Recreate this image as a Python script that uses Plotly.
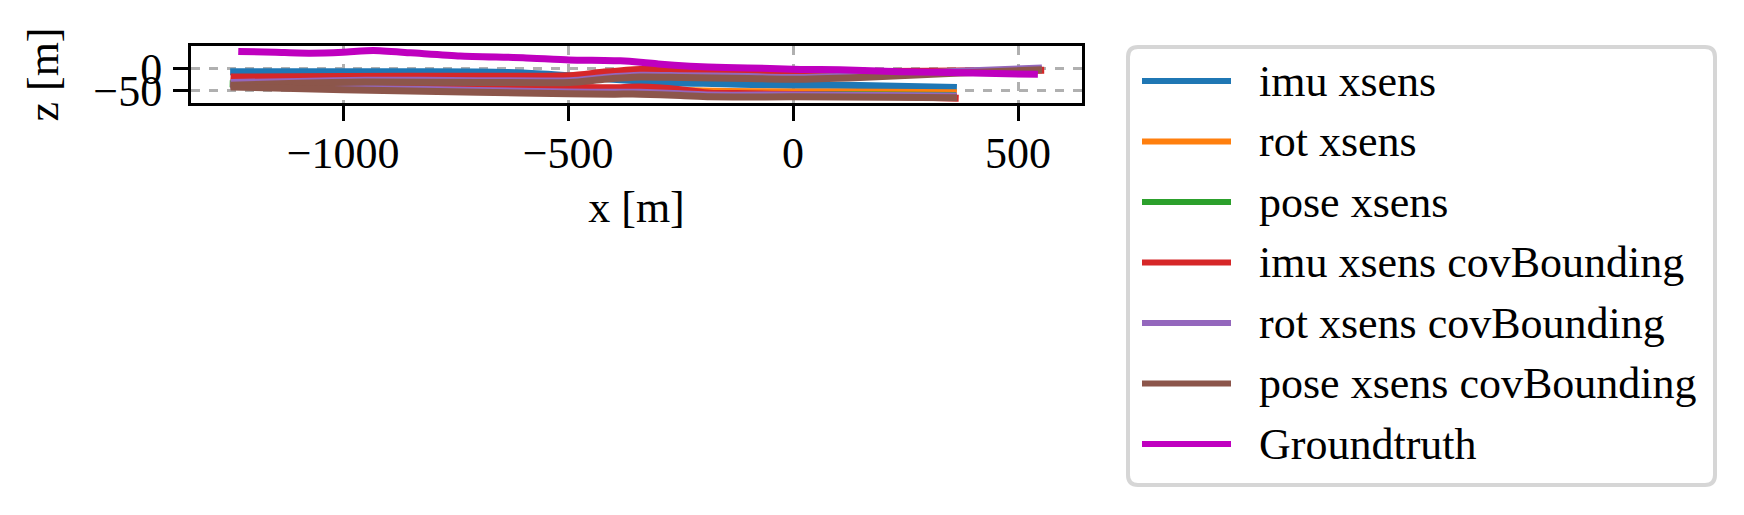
import plotly.graph_objects as go

# ---------------- data (x [m], z [m]) ----------------
names = ["imu xsens", "rot xsens", "pose xsens", "imu xsens covBounding",
         "rot xsens covBounding", "pose xsens covBounding", "Groundtruth"]
colors = ["#1f77b4", "#ff7f0e", "#2ca02c", "#d62728", "#9467bd", "#8c564b", "#bf00bf"]

imu_x = [-1251, -1000, -900, -700, -600, -500, -400, -280, -200, -118, 0, 149, 364]
imu_z = [-7, -7, -7, -8, -10, -16, -24, -31, -33, -35, -37, -38, -42]

rot_x = [-1250, -1000, -700, -500, -300, -147, 0, 200, 364]
rot_z = [-28, -34, -44, -47, -48, -51, -52, -53, -54]

pose_x = [-1252, -1000, -700, -500, -300, -150, 0, 200, 362]
pose_z = [-34, -40, -50, -54, -55, -57, -58, -59, -60]

imu_cb_a_x = [-1250, -1000, -700, -496, -420, -340, -250, -118, -51, 100, 300, 558]
imu_cb_a_z = [-19, -18, -17, -16, -8, -2, -3, -11, -11, -8, -6, -4]
imu_cb_b_x = [-1250, -1000, -700, -500, -400, -340, -250, -184, -100, 0, 200, 368]
imu_cb_b_z = [-36, -39, -41, -42, -43, -41, -47, -55, -56, -58, -61, -66]

rot_cb_a_x = [-1250, -1100, -950, -700, -496, -420, -340, -250, -100, 0, 149, 371, 553]
rot_cb_a_z = [-31, -29, -26, -27, -27, -20, -15, -16, -18, -20, -16, -6, 1]
rot_cb_b_x = [-1250, -1000, -700, -500, -400, -340, -250, -184, 0, 200, 364]
rot_cb_b_z = [-37, -43, -49, -52, -53, -53, -56, -59, -59, -60, -61]

pose_cb_a_x = [-1250, -1100, -950, -700, -496, -420, -340, -250, -100, 0, 149, 371, 553]
pose_cb_a_z = [-37, -33, -30, -31, -31, -24, -19, -20, -22, -24, -20, -10, -3]
pose_cb_b_x = [-1250, -1000, -700, -500, -400, -340, -250, -184, 0, 200, 364]
pose_cb_b_z = [-41, -47, -53, -56, -57, -57, -60, -63, -63, -64, -65]

gt_x = [-1233, -1150, -1073, -1000, -933, -850, -740, -600, -498, -420, -384, -340,
        -300, -229, -150, -51, 16, 104, 238, 400, 544]
gt_z = [38, 36, 34, 36, 40, 35, 28, 24, 19, 18, 17, 14, 10, 5, 2, 0, -2, -3, -7, -10, -13]

x_ticks = [-1000, -500, 0, 500]
z_ticks = [-50, 0]
x_range = [-1338, 642]
z_range = [-76.7, 50]

# ---------------- layout geometry (screen pixels; page has an 8px body margin) ----------------
OFF = 8
W, H = 1744 - OFF, 515 - OFF
PL, PR, PT, PB = 191 - OFF, 1082 - OFF, 46 - OFF, 103 - OFF
FONT = "Liberation Serif"
FS = 44

fig = go.Figure()

series = [
    (imu_x, imu_z, 0), (rot_x, rot_z, 1), (pose_x, pose_z, 2),
    (imu_cb_a_x, imu_cb_a_z, 3), (imu_cb_b_x, imu_cb_b_z, 3),
    (rot_cb_a_x, rot_cb_a_z, 4), (rot_cb_b_x, rot_cb_b_z, 4),
    (pose_cb_a_x, pose_cb_a_z, 5), (pose_cb_b_x, pose_cb_b_z, 5),
    (gt_x, gt_z, 6),
]
for xs, zs, k in series:
    fig.add_trace(go.Scatter(
        x=xs, y=zs, mode="lines", name=names[k], legendgroup=names[k],
        showlegend=False, hoverinfo="skip",
        line=dict(color=colors[k], width=7, shape="spline", smoothing=0.6),
    ))


def px2x(p):
    return (p - OFF - PL) / (PR - PL)


def py2y(q):
    return (PB - (q - OFF)) / (PB - PT)


# manual legend (box, handles, labels) in screen pixels
LX0, LX1, LY0, LY1, RAD = 1128, 1715, 47, 485, 10


def pt(p, q):
    return f"{px2x(p):.6f},{py2y(q):.6f}"


path = (f"M{pt(LX0 + RAD, LY0)} L{pt(LX1 - RAD, LY0)} Q{pt(LX1, LY0)} {pt(LX1, LY0 + RAD)} "
        f"L{pt(LX1, LY1 - RAD)} Q{pt(LX1, LY1)} {pt(LX1 - RAD, LY1)} "
        f"L{pt(LX0 + RAD, LY1)} Q{pt(LX0, LY1)} {pt(LX0, LY1 - RAD)} "
        f"L{pt(LX0, LY0 + RAD)} Q{pt(LX0, LY0)} {pt(LX0 + RAD, LY0)} Z")
shapes = [dict(type="path", xref="paper", yref="paper", path=path,
               line=dict(color="#d6d6d6", width=4), fillcolor="white", layer="above")]
annotations = []
for i, (nm, col) in enumerate(zip(names, colors)):
    ry = 81 + 60.5 * i
    shapes.append(dict(type="line", xref="paper", yref="paper",
                       x0=px2x(1142), x1=px2x(1231), y0=py2y(ry), y1=py2y(ry),
                       line=dict(color=col, width=6), layer="above"))
    annotations.append(dict(text=nm, xref="paper", yref="paper", x=px2x(1257), y=py2y(ry),
                            xanchor="left", yanchor="middle", showarrow=False,
                            font=dict(family=FONT, size=FS, color="black")))

axis_common = dict(
    showgrid=True, gridcolor="#b0b0b0", griddash="dash", gridwidth=2.5,
    showline=True, linecolor="black", linewidth=3, mirror=True,
    ticks="outside", ticklen=15, tickwidth=3, tickcolor="black",
    zeroline=False, tickfont=dict(family=FONT, size=FS, color="black"),
)

fig.update_layout(
    width=W, height=H,
    margin=dict(l=PL, r=W - PR, t=PT, b=H - PB, autoexpand=False),
    paper_bgcolor="white", plot_bgcolor="white",
    showlegend=False,
    xaxis=dict(range=x_range, tickmode="array", tickvals=x_ticks,
               title=dict(text="x [m]", font=dict(family=FONT, size=FS, color="black"), standoff=15),
               ticklabelstandoff=-6, **axis_common),
    yaxis=dict(range=z_range, tickmode="array", tickvals=z_ticks,
               title=dict(text="z [m]", font=dict(family=FONT, size=FS, color="black"), standoff=21),
               ticklabelstandoff=2, **axis_common),
    shapes=shapes, annotations=annotations,
)

fig.write_html("out.html")
